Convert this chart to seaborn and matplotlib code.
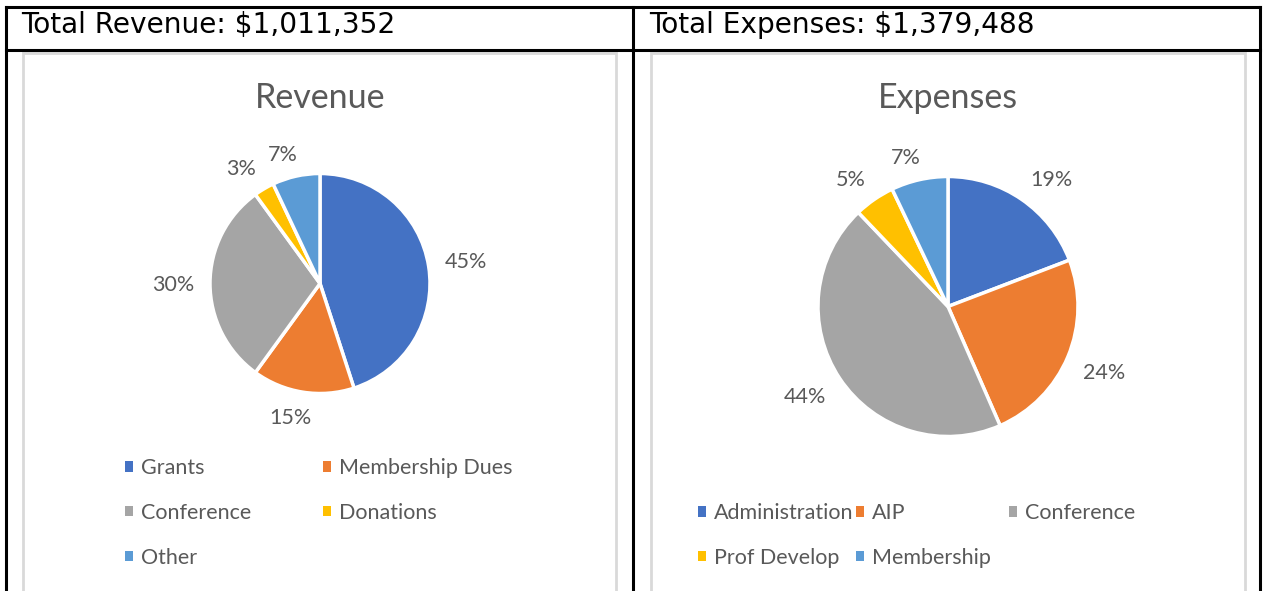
import numpy as np
import matplotlib
matplotlib.use("Agg")
import matplotlib.pyplot as plt
from matplotlib.lines import Line2D
from matplotlib.patches import Rectangle, Patch
import seaborn as sns

# ---------------- data ----------------
rev_labels = ["Grants", "Membership Dues", "Conference", "Donations", "Other"]
rev_values = [45, 15, 30, 3, 7]
exp_labels = ["Administration", "AIP", "Conference", "Prof Develop", "Membership"]
exp_values = [19, 24, 44, 5, 7]
rev_header = "Total Revenue: $1,011,352"
exp_header = "Total Expenses: $1,379,488"
rev_title = "Revenue"
exp_title = "Expenses"

sns.set_theme(style="white")
plt.rcParams["font.family"] = ["Lato", "DejaVu Sans"]

W, H = 1263, 591
fig = plt.figure(figsize=(W / 100, H / 100), dpi=100)
fig.patch.set_facecolor("white")

palette = sns.color_palette(["#4472C4", "#ED7D31", "#A5A5A5", "#FFC000", "#5B9BD5"])
GREY = "#595959"


def fx(x):
    return x / W


def fy(y):
    return 1 - y / H


# ---------------- table borders ----------------
def hline(x0, x1, y, **kw):
    fig.add_artist(Line2D([fx(x0), fx(x1)], [fy(y), fy(y)], transform=fig.transFigure, **kw))


def vline(x, y0, y1, **kw):
    fig.add_artist(Line2D([fx(x), fx(x)], [fy(y0), fy(y1)], transform=fig.transFigure, **kw))


blk = dict(color="black", lw=2.2, solid_capstyle="projecting", zorder=5)
hline(6, 1260, 6.5, **blk)
hline(6, 1260, 49.5, **blk)
vline(6, 6.5, 600, **blk)
vline(633, 6.5, 600, **blk)
vline(1260, 6.5, 600, **blk)

# chart area boxes
for x0, x1 in [(23, 616), (651, 1245)]:
    fig.add_artist(Rectangle((fx(x0), fy(640)), fx(x1) - fx(x0), fy(53) - fy(640),
                             transform=fig.transFigure, facecolor="none",
                             edgecolor="#D9D9D9", lw=2, zorder=-1))

# headers
hdr_font = dict(fontsize=20.2, color="black", va="center", ha="left",
                family=["DejaVu Sans"])
fig.text(fx(21), fy(25), rev_header, **hdr_font)
fig.text(fx(649), fy(25), exp_header, **hdr_font)

# titles
fig.text(fx(320), fy(98), rev_title, fontsize=24.5, color=GREY, ha="center", va="center")
fig.text(fx(948), fy(98), exp_title, fontsize=24.5, color=GREY, ha="center", va="center")

pies = []


def draw_pie(values, labels, cx, cy, R, legend_cols_x, legend_top, ncol):
    k = 1.7
    ax = fig.add_axes([fx(cx - R * k), fy(cy + R * k), 2 * R * k / W, 2 * R * k / H])
    wedges, texts, autotexts = ax.pie(
        values, colors=palette, startangle=90, counterclock=False,
        autopct=lambda p: f"{p:.0f}%", pctdistance=1.3,
        wedgeprops=dict(edgecolor="white", linewidth=2.5),
        textprops=dict(color=GREY, fontsize=15.5))
    ax.set_xlim(-k, k)
    ax.set_ylim(-k, k)
    ax.set_aspect("equal")
    ax.axis("off")
    proxies = [Patch(facecolor=w.get_facecolor(), edgecolor="none") for w in wedges]
    for j in range(ncol):
        hs = proxies[j::ncol]
        ls = labels[j::ncol]
        fig.legend(hs, ls, loc="upper left",
                   bbox_to_anchor=(fx(legend_cols_x[j]), fy(legend_top)),
                   frameon=False, fontsize=15.5, labelcolor=GREY,
                   handlelength=0.38, handleheight=0.38, handletextpad=0.38,
                   labelspacing=1.15, borderpad=0, borderaxespad=0)
    pies.append((ax, wedges, autotexts, R))


draw_pie(rev_values, rev_labels, 320, 283.5, 110, [125, 323], 458, 2)
draw_pie(exp_values, exp_labels, 948, 306.5, 130, [698, 856, 1009], 503, 3)

# place percentage labels just outside each wedge, like Excel's outside-end labels
fig.canvas.draw()
renderer = fig.canvas.get_renderer()
GAP = 16  # px between pie edge and label box
for ax, wedges, autotexts, R in pies:
    for w, t in zip(wedges, autotexts):
        th = np.deg2rad((w.theta1 + w.theta2) / 2)
        c, s = np.cos(th), np.sin(th)
        ext = t.get_window_extent(renderer)
        tw, tht = ext.width, 16.0
        ox = (R + GAP) * c + tw / 2 * np.clip(3 * c, -1, 1)
        oy = (R + GAP) * s + tht / 2 * np.clip(3 * s, -1, 1)
        t.set_position((ox / R, oy / R))
        t.set_ha("center")
        t.set_va("center_baseline")

fig.savefig("out.png", dpi=100, facecolor="white")
